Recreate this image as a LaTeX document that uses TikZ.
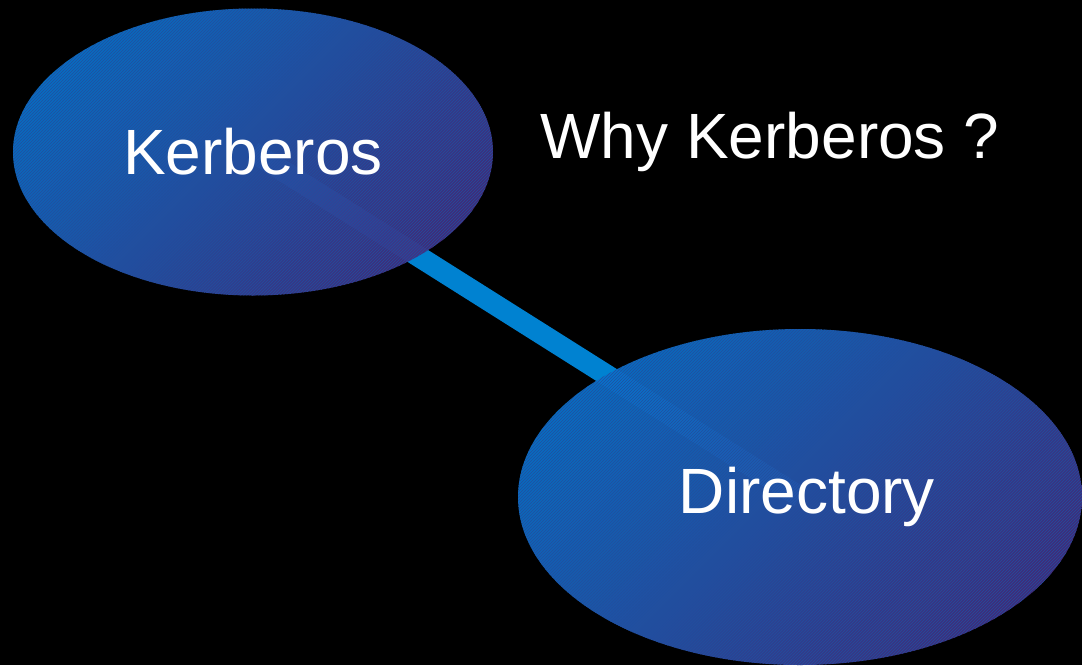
\documentclass[tikz,border=0pt]{standalone}
\usepackage{fontspec}
\setmainfont{Liberation Sans}
\usetikzlibrary{shapes.geometric, patterns}
\definecolor{BubbleBlue}{rgb}{0.03, 0.45, 0.80}
\definecolor{BubblePurple}{rgb}{0.27, 0.18, 0.50}
\definecolor{HatchBlue}{rgb}{0.13, 0.31, 0.62}
\definecolor{LinkBlue}{rgb}{0.00, 0.51, 0.82}
\pgfdeclarelayer{backdrop}
\pgfdeclarelayer{links}
\pgfsetlayers{backdrop,links,main}

\begin{document}
\begin{tikzpicture}[x=1pt,y=1pt,yscale=-1,xscale=1,
		bubble/.style={ellipse, inner sep=0pt, text=white, font=\fontsize{64}{72}\selectfont,
			top color=BubbleBlue, bottom color=BubblePurple, shading angle=45,
			fill opacity=0.95, text opacity=1,
			postaction={pattern=north east lines, pattern color=HatchBlue}},
		link/.style={LinkBlue, line width=21pt}]
		% Set diagram size to 1082 x 665 and paint it black
		\useasboundingbox (0,0) rectangle (1082,665);
		\begin{pgfonlayer}{backdrop}
			\fill[black] (0,0) rectangle (1082,665);
		\end{pgfonlayer}

		% The two bubbles
		\node[bubble, minimum width=480, minimum height=287] (kerberos) at (253,152) {Kerberos};
		\node[bubble, minimum width=564, minimum height=336] (directory) at (800,497) {\hspace*{14pt}Directory};

		% The bar joining the bubbles, behind them
		\begin{pgfonlayer}{links}
			\draw[link] (kerberos.center) -- (directory.center);
		\end{pgfonlayer}

		% The question at the top right
		\node[text=white, font=\fontsize{64}{72}\selectfont, inner sep=0.75pt] (why) at (770,142) {Why Kerberos ?};
	\end{tikzpicture}
\end{document}
